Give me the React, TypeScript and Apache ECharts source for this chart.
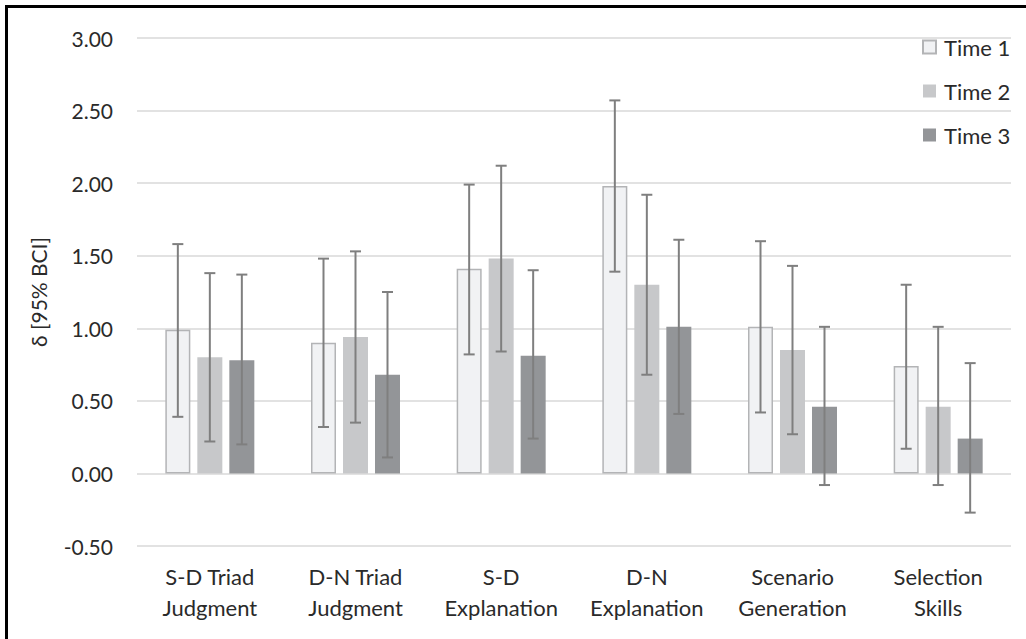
import React, { useEffect, useRef } from "react";
import * as echarts from "echarts";

const categories = [
  "S-D Triad\nJudgment",
  "D-N Triad\nJudgment",
  "S-D\nExplanation",
  "D-N\nExplanation",
  "Scenario\nGeneration",
  "Selection\nSkills",
];
const seriesNames = ["Time 1", "Time 2", "Time 3"];
const time1 = [0.99, 0.9, 1.41, 1.98, 1.01, 0.74];
const time2 = [0.8, 0.94, 1.48, 1.3, 0.85, 0.46];
const time3 = [0.78, 0.68, 0.81, 1.01, 0.46, 0.24];
const time1Low = [0.39, 0.32, 0.82, 1.39, 0.42, 0.17];
const time1High = [1.58, 1.48, 1.99, 2.57, 1.6, 1.3];
const time2Low = [0.22, 0.35, 0.84, 0.68, 0.27, -0.08];
const time2High = [1.38, 1.53, 2.12, 1.92, 1.43, 1.01];
const time3Low = [0.2, 0.11, 0.24, 0.41, -0.08, -0.27];
const time3High = [1.37, 1.25, 1.4, 1.61, 1.01, 0.76];
const yTicks = { min: -0.5, max: 3, interval: 0.5 };
const yAxisTitle = "δ [95% BCI]";

const FONT = "Lato, 'Open Sans', sans-serif";
const TEXT = "#2a2a2a";
const BAR_W = 25;
const BAR_GAP = 7;

export default function App() {
  const ref = useRef<HTMLDivElement>(null);
  useEffect(() => {
    if (!ref.current) return;
    const chart = echarts.init(ref.current, null, { renderer: "svg" });
    const values = [time1, time2, time3];
    const lows = [time1Low, time2Low, time3Low];
    const highs = [time1High, time2High, time3High];
    const styles = [
      { color: "#f1f2f4", borderColor: "#b3b4b6", borderWidth: 1.5 },
      { color: "#c7c8ca" },
      { color: "#939598" },
    ];
    const bars = values.map((v, i) => ({
      name: seriesNames[i],
      type: "bar",
      data: v,
      barWidth: BAR_W,
      barGap: (BAR_GAP / BAR_W) * 100 + "%",
      itemStyle: styles[i],
      z: 2,
    }));
    const errs = values.map((v, i) => ({
      type: "custom",
      name: "err" + i,
      z: 5,
      data: v.map((_, k) => [k, lows[i][k], highs[i][k]]),
      renderItem: (params: any, api: any) => {
        const idx = api.value(0);
        const offset = (i - 1) * (BAR_W + BAR_GAP);
        const lo = api.coord([idx, api.value(1)]);
        const hi = api.coord([idx, api.value(2)]);
        const x = lo[0] + offset;
        const cap = 5.5;
        const st = { stroke: "#7f7f7f", lineWidth: 2 };
        return {
          type: "group",
          children: [
            { type: "line", shape: { x1: x, y1: lo[1], x2: x, y2: hi[1] }, style: st },
            { type: "line", shape: { x1: x - cap, y1: lo[1], x2: x + cap, y2: lo[1] }, style: st },
            { type: "line", shape: { x1: x - cap, y1: hi[1], x2: x + cap, y2: hi[1] }, style: st },
          ],
        };
      },
    }));
    chart.setOption({
      animation: false,
      backgroundColor: "#ffffff",
      textStyle: { fontFamily: FONT },
      grid: { left: 137, right: 15, top: 38, bottom: 93 },
      legend: {
        data: seriesNames,
        orient: "vertical",
        left: 917,
        top: 31,
        icon: "rect",
        itemWidth: 13,
        itemHeight: 13,
        itemGap: 22,
        textStyle: { fontSize: 22, color: TEXT, fontFamily: FONT, padding: [0, 0, 0, 3] },
      },
      xAxis: {
        type: "category",
        data: categories,
        axisLine: { show: false },
        axisTick: { show: false },
        axisLabel: {
          fontSize: 22,
          lineHeight: 31,
          color: TEXT,
          margin: 15,
          fontFamily: FONT,
          interval: 0,
        },
      },
      yAxis: {
        type: "value",
        min: yTicks.min,
        max: yTicks.max,
        interval: yTicks.interval,
        axisLine: { show: false },
        axisTick: { show: false },
        axisLabel: {
          fontSize: 21,
          color: TEXT,
          margin: 24,
          fontFamily: FONT,
          formatter: (v: number) => v.toFixed(2),
        },
        splitLine: { lineStyle: { color: "#d9d9d9", width: 1.5 } },
      },
      graphic: [
        {
          type: "text",
          x: 38,
          y: 292,
          rotation: Math.PI / 2,
          style: {
            text: yAxisTitle,
            fontSize: 21,
            fontFamily: FONT,
            fill: TEXT,
            align: "center",
            verticalAlign: "middle",
          },
        },
        {
          type: "rect",
          shape: { x: 6.5, y: 6.5, width: 1040, height: 660 },
          style: { fill: "none", stroke: "#000000", lineWidth: 3 },
          z: 10,
        },
      ],
      series: [...bars, ...errs],
    });
    return () => chart.dispose();
  }, []);
  return (
    <div
      ref={ref}
      style={{ position: "absolute", left: 0, top: 0, width: 1026, height: 639 }}
    />
  );
}
